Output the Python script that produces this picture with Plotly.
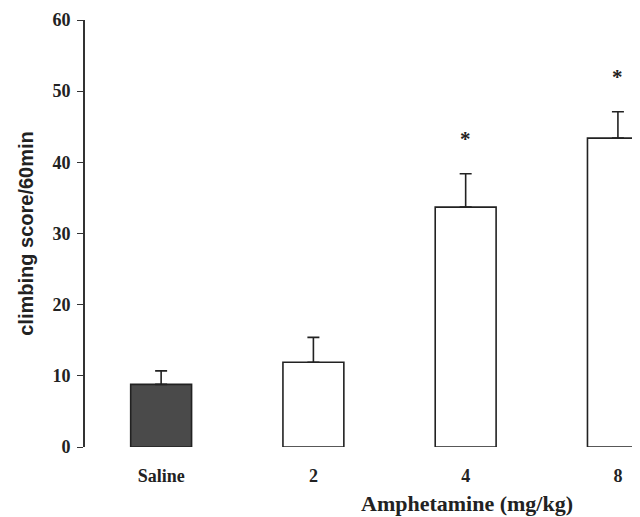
import plotly.graph_objects as go

categories = ["Saline", "2", "4", "8"]
means = [8.8, 11.9, 33.7, 43.4]
sems = [1.9, 3.5, 4.7, 3.7]
significant = [False, False, True, True]
fill_colors = ["#4a4a4a", "#ffffff", "#ffffff", "#ffffff"]
y_ticks = [0, 10, 20, 30, 40, 50, 60]

fig = go.Figure()
fig.add_trace(go.Bar(
    x=categories, y=means, width=0.4,
    marker=dict(color=fill_colors, line=dict(color="#222222", width=1.6)),
    error_y=dict(type="data", symmetric=False, array=sems,
                 arrayminus=[0] * len(sems), color="#222222",
                 thickness=1.6, width=6),
    showlegend=False,
))

for i, (m, s, sig) in enumerate(zip(means, sems, significant)):
    if sig:
        fig.add_annotation(x=i, y=m + s + 4.9, text="*", showarrow=False,
                           font=dict(family="Liberation Serif", size=21, weight="bold", color="#222222"))

fig.add_annotation(xref="paper", yref="paper", x=0.688, y=-0.132,
                   text="Amphetamine (mg/kg)", showarrow=False,
                   xanchor="center", yanchor="middle",
                   font=dict(family="Liberation Serif", size=22, weight="bold", color="#222222"))

fig.update_layout(
    width=632, height=509,
    margin=dict(l=77, r=0, t=12, b=70),
    plot_bgcolor="white", paper_bgcolor="white",
    xaxis=dict(type="category", range=[-0.5, 3.145], showline=False,
               ticks="", showgrid=False, zeroline=False, ticklabelstandoff=16,
               tickfont=dict(family="Liberation Serif", size=18, weight="bold", color="#222222")),
    yaxis=dict(range=[0, 60], tickvals=y_ticks, showline=True,
               linecolor="#333333", linewidth=1.6, ticks="outside",
               ticklen=6, tickwidth=1.4, tickcolor="#333333",
               showgrid=False, zeroline=False, ticklabelstandoff=3,
               tickfont=dict(family="Liberation Serif", size=18, weight="bold", color="#222222"),
               title=dict(text="climbing score/60min", standoff=14,
                          font=dict(family="Liberation Sans", size=20, weight="bold", color="#222222"))),
)

fig.write_html("out.html")
